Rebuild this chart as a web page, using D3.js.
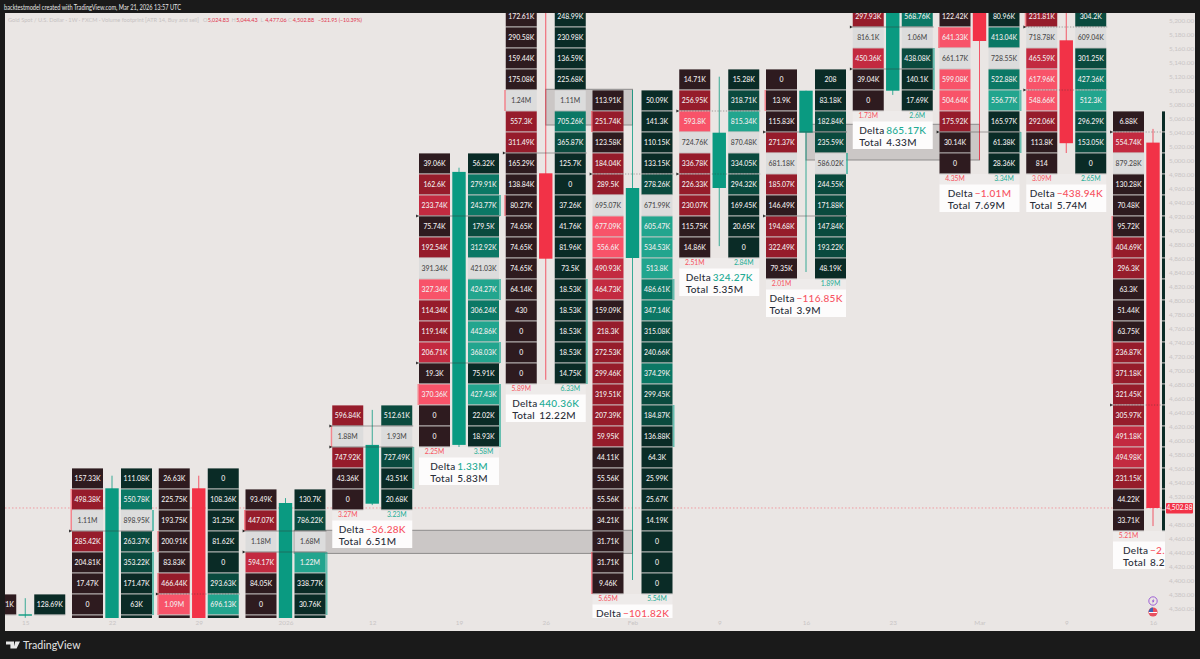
<!DOCTYPE html>
<html><head><meta charset="utf-8">
<script src="https://cdn.jsdelivr.net/npm/d3@7/dist/d3.min.js"></script>
<style>html,body{margin:0;padding:0;background:#1a1a1a;overflow:hidden}svg{display:block}text{font-family:Lato,"Noto Sans",sans-serif}</style>
</head><body><svg id="c" width="1200" height="659"></svg>
<script>
const barLabels=['15','22','29','2026','12','19','26','Feb','9','16','23','Mar','9','16'];
const priceTicks=d3.range(4360,5201,20).filter(p=>p!==4500);
const opens=[4349,4345,4531,4340,4509,4593,4981,4860,4960,5039,5099,5260,5171,5024.83];
const closes=[4351,4531,4340,4510,4593,4983,4859,4960,5039,5099,5260,5170,5024,4502.88];
const highs=[4374,4549,4549,4517,4643,4989,5260,5100,5119,5099,5270,5270,5240,5044.43];
const lows=[4346,4330,4330,4330,4507,4590,4686,4400,4877,4840,5093,5000,5010,4477.06];
const firstRowPrice=[4380,4560,4560,4530,4650,5010,5220,5100,5130,5130,5220,5220,5220,5070];
const leftValues=[
['135.71K'],
['157.33K','498.38K','1.11M','285.42K','204.81K','17.47K','0',''],
['26.63K','225.75K','193.75K','200.91K','83.83K','466.44K','1.09M',''],
['93.49K','447.07K','1.18M','594.17K','84.05K','0',''],
['596.84K','1.88M','747.92K','43.36K','0'],
['39.06K','162.6K','233.74K','75.74K','192.54K','391.34K','327.34K','114.34K','119.14K','206.71K','19.3K','370.36K','0','0'],
['172.61K','290.58K','159.44K','175.08K','1.24M','557.3K','311.49K','165.29K','138.84K','80.27K','74.65K','74.65K','74.65K','64.14K','430','0','0','0'],
['113.91K','251.74K','123.58K','184.04K','289.5K','695.07K','677.09K','556.6K','490.93K','464.73K','159.09K','218.3K','272.53K','299.46K','319.51K','207.39K','59.95K','44.11K','55.56K','55.56K','34.21K','31.71K','31.71K','9.46K'],
['14.71K','256.95K','593.8K','724.76K','336.78K','226.33K','230.07K','115.75K','14.86K'],
['0','13.9K','115.83K','271.37K','681.18K','185.07K','146.49K','194.68K','322.49K','79.35K'],
['297.93K','816.1K','450.36K','39.04K','0'],
['122.42K','641.33K','661.17K','599.08K','504.64K','175.92K','30.14K','0'],
['231.81K','718.78K','465.59K','617.96K','548.66K','292.06K','113.8K','814'],
['6.88K','554.74K','879.28K','130.28K','70.48K','95.72K','404.69K','296.3K','63.3K','51.44K','63.75K','236.87K','371.18K','321.45K','305.97K','491.18K','494.98K','231.15K','44.22K','33.71K']];
const rightValues=[
['128.69K'],
['111.08K','550.78K','898.95K','263.37K','353.22K','171.47K','63K',''],
['0','108.36K','31.25K','81.62K','0','293.63K','696.13K',''],
['130.7K','786.22K','1.68M','1.22M','338.77K','30.76K',''],
['512.61K','1.93M','727.49K','43.51K','20.68K'],
['56.32K','279.91K','243.77K','179.5K','312.92K','421.03K','424.27K','306.24K','442.86K','368.03K','75.91K','427.43K','22.02K','18.93K'],
['248.99K','230.98K','136.59K','225.68K','1.11M','705.26K','365.87K','125.7K','0','37.26K','41.76K','81.96K','73.5K','18.53K','18.53K','18.53K','18.53K','14.75K'],
['50.09K','141.3K','110.15K','133.15K','278.26K','671.99K','605.47K','534.53K','513.8K','486.61K','347.14K','315.08K','240.66K','374.29K','299.45K','184.87K','136.88K','64.3K','25.99K','25.67K','14.19K','0','0','0'],
['15.28K','318.71K','815.34K','870.48K','334.05K','294.32K','169.45K','20.65K','0'],
['208','83.18K','182.84K','235.59K','586.02K','244.55K','171.88K','147.84K','193.22K','48.19K'],
['568.76K','1.06M','438.08K','140.1K','17.69K'],
['80.96K','413.04K','728.55K','522.88K','556.77K','165.97K','61.38K','28.36K'],
['304.2K','609.04K','301.25K','427.36K','512.3K','296.29K','153.05K','0'],
['','','','','','','','','','','','','','','','','','','','']];
// 0 dark, 1 deep, 2 medium, 3 bright, p = point of control
const leftLevels=['0','01p10000','00000130','01p2000','1p100','01201p31120300','0000p1100000000000','01011p332201111110000000','013p11100','0001p10110','1p200','03p33100','1p233100','02p00011000111122100'];
const rightLevels=['0','02p11000','00000130','01p3000','1p100','02212p32330300','0000p2100000000000','00001p333221121100000000','013p11000','0011p11110','2p100','02p23000','1p123110','00000000000000000000'];
const leftTotals=['','','','','3.27M','2.25M','5.89M','5.65M','2.51M','2.01M','1.73M','4.35M','3.09M','5.21M'];
const rightTotals=['','','','','3.23M','3.58M','6.33M','5.54M','2.84M','1.89M','2.6M','3.34M','2.65M',''];
const deltaValues=['','','','','−36.28K','1.33M','440.36K','−101.82K','324.27K','−116.85K','865.17K','−1.01M','−438.94K','−2.'];
const totalValues=['','','','','6.51M','5.83M','12.22M','','5.35M','3.9M','4.33M','7.69M','5.74M','8.2'];
const zoneFrom=[3.1,6,9],zoneTo=[7,7,11],zoneHigh=[4471,5101,5051],zoneLow=[4438,5050,5000];
// [bar, side, first row, last row]
const strips=[[1,'L',1,2],[1,'R',2,2],[1,'R',4,6],[2,'L',3,3],[2,'L',5,6],[3,'L',1,1],[3,'R',3,5],[4,'L',1,1],[4,'R',2,3],
[5,'L',11,11],[5,'R',2,2],[5,'R',6,6],[5,'R',9,9],[5,'R',11,13],[6,'L',4,4],[6,'L',9,9],[6,'R',13,17],[7,'L',1,1],[7,'L',22,23],[7,'R',9,9],[7,'R',15,16],
[9,'L',1,1],[9,'R',4,4],[10,'R',2,3],[11,'L',1,1],[11,'R',4,4],[11,'R',6,6],[12,'L',0,0],[13,'L',5,6],[13,'L',10,12],[13,'R',1,1]];
// [bar, row boundary, dotted]
const marks=[[1,3,0],[2,6,1],[3,2,0],[3,3,0],[4,1,0],[4,2,0],[5,3,0],[5,10,0],[6,7,0],[7,4,1],[8,2,1],[8,5,1],[9,3,0],[9,7,0],[10,1,0],[10,3,0],[11,6,0],[12,1,1],[12,4,1],[13,1,1],[13,14,1]];

const leftCols={'0':'#2e1b1f','1':'#961c2b','2':'#c32a40','3':'#f85369','p':'#dcdcdc'};
const rightCols={'0':'#0a2b26','1':'#0a4a3e','2':'#0b7865','3':'#22a58e','p':'#dcdcdc'};
const GREEN='#0a9a81',RED='#f23247',PINK='#f7525f',TEAL='#22ab94',BG='#eae6e4',BAR='#1a1a1a',FAINT='#c9c5c4';

const y=d3.scaleLinear().domain([5200,4360]).range([20,608]);
const x=d3.scaleLinear().domain([1,13]).range([112,1153]);
const svg=d3.select('#c');
const rowH=y(0)-y(30);
const plot={x:5,y:13,w:1160,h:605};
svg.append('rect').attr('width',1200).attr('height',659).attr('fill',BAR);
svg.append('rect').attr('x',5).attr('y',13).attr('width',1190).attr('height',618).attr('fill',BG);
svg.append('clipPath').attr('id','pc').append('rect').attr('x',plot.x).attr('y',plot.y).attr('width',plot.w).attr('height',plot.h);
const g=svg.append('g').attr('clip-path','url(#pc)');

// last price line
g.append('line').attr('x1',5).attr('x2',1165).attr('y1',y(closes[13])).attr('y2',y(closes[13])).attr('stroke',PINK).attr('stroke-width',.7).attr('stroke-dasharray','1.5 2').attr('opacity',.7);

// zones
zoneFrom.forEach((z,i)=>{g.append('rect').attr('x',x(z)).attr('width',x(zoneTo[i])-x(z)).attr('y',y(zoneHigh[i])).attr('height',y(zoneLow[i])-y(zoneHigh[i]))
 .attr('fill','#b5b3b3').attr('fill-opacity',.6).attr('stroke','#8d8b8b').attr('stroke-width',1);});

// candles
barLabels.forEach((_,i)=>{
 const up=closes[i]>=opens[i],col=up?GREEN:RED,cx=x(i);
 g.append('line').attr('x1',cx).attr('x2',cx).attr('y1',y(highs[i])).attr('y2',y(lows[i])).attr('stroke',col).attr('stroke-width',.8);
 const t=y(Math.max(opens[i],closes[i])),b=y(Math.min(opens[i],closes[i]));
 g.append('rect').attr('x',cx-6.7).attr('width',13.4).attr('y',t).attr('height',Math.max(1,b-t)).attr('fill',col);
});

// strips
strips.forEach(([b,s,r0,r1])=>{
 const top=y(firstRowPrice[b])+r0*rowH,h=(r1-r0+1)*rowH;
 g.append('rect').attr('x',s==='L'?x(b)-41.5:x(b)+40).attr('width',2).attr('y',top).attr('height',h)
  .attr('fill',s==='L'?PINK:TEAL).attr('opacity',.65);
});

// footprint cells
function column(i,vals,lv,cols,cx0,w){
 const top=y(firstRowPrice[i]);
 const sel=g.append('g').selectAll('g').data(vals).join('g').attr('transform',(d,r)=>`translate(${cx0},${top+r*rowH})`);
 sel.append('rect').attr('y',.4).attr('width',w).attr('height',rowH-.8).attr('fill',(d,r)=>cols[lv[r]||'0']);
 sel.append('line').attr('x1',0).attr('x2',w).attr('y1',rowH).attr('y2',rowH).attr('stroke','#b9b6b5').attr('stroke-width',.8);
 sel.append('text').attr('x',w/2).attr('y',rowH/2+2.5).attr('text-anchor','middle').attr('font-size',6.9).attr('font-weight',500)
  .attr('fill',(d,r)=>lv[r]==='p'?'#4a4a4a':'#f2eeee').text(d=>d);
}
barLabels.forEach((_,i)=>{
 column(i,leftValues[i],leftLevels[i],leftCols,x(i)-40,31);
 column(i,rightValues[i],rightLevels[i],rightCols,x(i)+9,31);
});

// POC / imbalance markers
marks.forEach(([b,r,d])=>{
 const yy=y(firstRowPrice[b])+r*rowH;
 g.append('line').attr('x1',x(b)-41).attr('x2',x(b)+41).attr('y1',yy).attr('y2',yy).attr('stroke','#3a3838').attr('stroke-width',.6).attr('stroke-dasharray',d?'1.2 1.6':null).attr('opacity',.7);
 g.append('path').attr('d',d3.symbol(d3.symbolTriangle,4)()).attr('transform',`translate(${x(b)-42},${yy}) rotate(90)`).attr('fill','#222');
});

// totals & delta boxes
barLabels.forEach((_,i)=>{
 if(!deltaValues[i]) return;
 const bottom=y(firstRowPrice[i])+leftValues[i].length*rowH, cx=x(i);
 g.append('rect').attr('x',cx-40).attr('width',80).attr('y',bottom).attr('height',11).attr('fill','#fff').attr('opacity',.22);
 g.append('text').attr('x',cx-24.5).attr('y',bottom+7.3).attr('text-anchor','middle').attr('font-size',6.8).attr('fill',PINK).text(leftTotals[i]);
 if(rightTotals[i]) g.append('text').attr('x',cx+24.5).attr('y',bottom+7.3).attr('text-anchor','middle').attr('font-size',6.8).attr('fill',TEAL).text(rightTotals[i]);
 const by=bottom+10.5;
 g.append('rect').attr('x',cx-40).attr('width',80).attr('y',by).attr('height',27.5).attr('fill','#fdfcfc');
 const neg=deltaValues[i].startsWith('−');
 const mk=(s,yy,col,xx)=>g.append('text').attr('x',xx).attr('y',yy).attr('font-size',10).attr('letter-spacing',.3).attr('font-weight',500).attr('fill',col).text(s);
 const gap=27;
 const dv=mk(deltaValues[i],by+12,neg?PINK:TEAL,0);
 const tv=totalValues[i]?mk(totalValues[i],by+24,'#2a2e39',0):null;
 // the last bar's box runs past the plot edge, so it keeps the same left inset as the reference
 const w=i===13?78-18:gap+Math.max(dv.node().getComputedTextLength(),tv?tv.node().getComputedTextLength():0);
 const x0=cx-w/2+(i===13?-0:0);
 dv.attr('x',x0+gap); if(tv) tv.attr('x',x0+gap);
 mk('Delta',by+12,'#2a2e39',x0);
 if(tv) mk('Total',by+24,'#2a2e39',x0);
});

// axes
const yAxis=d3.axisRight(y).tickValues(priceTicks).tickSize(0).tickPadding(0).tickFormat(d3.format(',.2f'));
const ya=svg.append('g').attr('transform','translate(1169,0)').call(yAxis);
ya.select('.domain').remove();
ya.selectAll('text').attr('font-size',6.4).attr('fill',FAINT).attr('font-family','Lato,sans-serif');
const xAxis=d3.axisBottom(x).tickValues(d3.range(0,14)).tickSize(0).tickPadding(0).tickFormat(i=>barLabels[i]);
const xa=svg.append('g').attr('transform','translate(0,620)').call(xAxis);
xa.select('.domain').remove();
xa.selectAll('text').attr('font-size',6.4).attr('fill',FAINT).attr('font-family','Lato,sans-serif');

// last price tag
svg.append('rect').attr('x',1166).attr('y',y(closes[13])-5).attr('width',27).attr('height',10.5).attr('rx',1).attr('fill',RED);
svg.append('text').attr('x',1179.5).attr('y',y(closes[13])+2.5).attr('text-anchor','middle').attr('font-size',6.6).attr('fill','#fff').text(d3.format(',.2f')(closes[13]));

// header
svg.append('text').attr('x',4).attr('y',9.5).attr('font-size',6.6).attr('textLength',177).attr('lengthAdjust','spacingAndGlyphs').attr('fill','#e6e6e6').text('backtestmodel created with TradingView.com, Mar 21, 2026 13:57 UTC');
svg.append('text').attr('x',8).attr('y',21.5).attr('font-size',6.2).attr('textLength',191).attr('lengthAdjust','spacingAndGlyphs').attr('fill','#c6c2c2').text('Gold Spot / U.S. Dollar · 1W · FXCM · Volume footprint [ATR 14, Buy and sell]');
const hdr=[['O',203,'5,024.83'],['H',231.5,'5,044.43'],['L',260.5,'4,477.06'],['C',288,'4,502.88']];
hdr.forEach(([k,xx,v])=>{
 svg.append('text').attr('x',xx).attr('y',21.5).attr('font-size',5.6).attr('fill','#c6c2c2').text(k);
 svg.append('text').attr('x',xx+4.7).attr('y',21.5).attr('font-size',6.2).attr('textLength',21.5).attr('lengthAdjust','spacingAndGlyphs').attr('fill','#e0344c').text(v);
});
svg.append('text').attr('x',318).attr('y',21.5).attr('font-size',6.2).attr('textLength',44).attr('lengthAdjust','spacingAndGlyphs').attr('fill','#e0344c').text('−521.95 (−10.39%)');

// TradingView wordmark
const logo=svg.append('g').attr('fill','#e8e8e8');
logo.append('path').attr('d','M6 641.5h8v7h-3.6v-4H6zM15.3 641.5h4.7l-3.4 7h-3.2z');
svg.append('text').attr('x',23).attr('y',649).attr('font-size',10.6).attr('font-weight',500).attr('fill','#dcdcdc').text('TradingView');

// event icons
svg.append('circle').attr('cx',1153).attr('cy',601).attr('r',4.2).attr('fill','#eae6e4').attr('stroke','#8a3fd1').attr('stroke-width',.8);
svg.append('path').attr('d','M1153.8 598.4l-2 3h1.3l-.8 2.4 2.2-3.2h-1.3z').attr('fill','#8a3fd1');
svg.append('circle').attr('cx',1153).attr('cy',612).attr('r',4.6).attr('fill','#e8505f');
svg.append('path').attr('d','M1148.6 612a4.4 4.4 0 0 1 4.4-4.4v4.4z').attr('fill','#3f63b5');
svg.append('rect').attr('x',1149).attr('y',612).attr('width',8).attr('height',1).attr('fill','#fff');
</script></body></html>
